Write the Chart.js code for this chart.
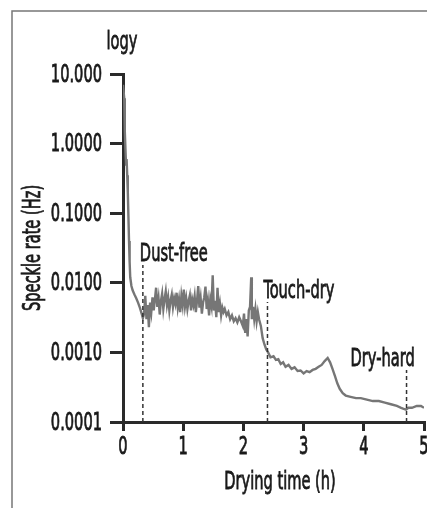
<!DOCTYPE html>
<html>
<head>
<meta charset="utf-8">
<script src="https://cdn.jsdelivr.net/npm/chart.js@4.4.1/dist/chart.umd.min.js"></script>
<style>
  html, body { margin: 0; padding: 0; background: #fff; overflow: hidden; }
  canvas { display: block; }
</style>
</head>
<body>
<canvas id="speckle-chart" width="440" height="508"></canvas>
<script>
const ctx = document.getElementById("speckle-chart");

// data
const times = [
  0.00, 0.02, 0.03, 0.05, 0.06, 0.07, 0.08, 0.09, 0.10, 0.11, 0.12, 0.14, 0.16, 0.19,
  0.22, 0.25, 0.28, 0.31, 0.33, 0.35, 0.37, 0.39, 0.41, 0.43, 0.45, 0.47, 0.49, 0.51,
  0.53, 0.55, 0.57, 0.59, 0.61, 0.63, 0.65, 0.67, 0.69, 0.71, 0.73, 0.75, 0.77, 0.79,
  0.81, 0.83, 0.85, 0.87, 0.89, 0.91, 0.93, 0.95, 0.97, 0.99, 1.01, 1.03, 1.05, 1.07,
  1.09, 1.11, 1.13, 1.15, 1.17, 1.19, 1.21, 1.23, 1.25, 1.27, 1.29, 1.31, 1.33, 1.35,
  1.37, 1.39, 1.41, 1.43, 1.45, 1.47, 1.49, 1.51, 1.53, 1.55, 1.57, 1.59, 1.61, 1.63,
  1.65, 1.67, 1.69, 1.72, 1.75, 1.78, 1.81, 1.84, 1.87, 1.90, 1.93, 1.96, 1.99, 2.01,
  2.03, 2.05, 2.07, 2.09, 2.11, 2.13, 2.14, 2.16, 2.18, 2.20, 2.22, 2.24, 2.26, 2.29,
  2.32, 2.35, 2.38, 2.41, 2.45, 2.50, 2.54, 2.58, 2.62, 2.66, 2.70, 2.75, 2.80, 2.85,
  2.90, 2.95, 3.00, 3.05, 3.10, 3.15, 3.20, 3.25, 3.30, 3.35, 3.40, 3.44, 3.48, 3.52,
  3.56, 3.60, 3.65, 3.70, 3.78, 3.87, 3.95, 4.05, 4.15, 4.25, 4.35, 4.45, 4.55, 4.62,
  4.70, 4.74, 4.80, 4.88, 4.95, 5.00
];
const speckleRate = [
  7.0, 4.5, 1.5, 0.50, 0.60, 0.35, 0.20, 0.09, 0.040, 0.020, 0.012, 0.0090, 0.0078, 0.0068,
  0.0060, 0.0052, 0.0044, 0.0036, 0.0031, 0.0036, 0.0065, 0.0030, 0.0048, 0.0023, 0.0052, 0.0038, 0.0062, 0.0040,
  0.0058, 0.0085, 0.0045, 0.0060, 0.0035, 0.0055, 0.0070, 0.0042, 0.0058, 0.0075, 0.0048, 0.0062, 0.0040, 0.0056,
  0.0068, 0.0045, 0.0060, 0.0050, 0.0072, 0.0044, 0.0058, 0.0038, 0.0065, 0.0048, 0.0080, 0.0046, 0.0060, 0.0042,
  0.0055, 0.0066, 0.0040, 0.0058, 0.0048, 0.0064, 0.0038, 0.0056, 0.0090, 0.0044, 0.0060, 0.0036, 0.0052, 0.0062,
  0.0088, 0.0042, 0.0056, 0.0034, 0.0058, 0.0046, 0.0128, 0.0040, 0.0055, 0.0032, 0.0085, 0.0038, 0.0050, 0.0034,
  0.0044, 0.0038, 0.0042, 0.0034, 0.0038, 0.0030, 0.0034, 0.0028, 0.0031, 0.0027, 0.0032, 0.0028, 0.0024, 0.0036,
  0.0019, 0.0030, 0.0017, 0.0040, 0.0045, 0.0120, 0.0030, 0.0045, 0.0030, 0.0042, 0.0028, 0.0038, 0.0030, 0.0024,
  0.0016, 0.0013, 0.0011, 0.0010, 0.00085, 0.00088, 0.00078, 0.00080, 0.00068, 0.00072, 0.00062, 0.00066, 0.00058, 0.00061,
  0.00054, 0.00055, 0.00050, 0.00054, 0.00052, 0.00056, 0.00058, 0.00062, 0.00066, 0.00075, 0.00083, 0.00072, 0.00058, 0.00046,
  0.00036, 0.00030, 0.00026, 0.00024, 0.00023, 0.00022, 0.00022, 0.00021, 0.00020, 0.00020, 0.00019, 0.00018, 0.00017, 0.00016,
  0.00015, 0.00016, 0.00016, 0.00017, 0.00017, 0.00016
];
const yTickValues = [0.0001, 0.001, 0.01, 0.1, 1, 10];
const yTickLabels = ["0.0001", "0.0010", "0.0100", "0.1000", "1.0000", "10.000"];
const markerLabels = ["Dust-free", "Touch-dry", "Dry-hard"];
const markerTimes = [0.33, 2.40, 4.71];
const markerTops = [0.018, 0.0053, 0.00056];

const FONT = '"DejaVu Sans Condensed", "DejaVu Sans", sans-serif';
const INK = "#1a1a1a";
const SQUEEZE = 0.65; // the original uses a very narrow face

// narrow text: drawn as canvas text, squeezed sideways, a little heavier
function narrowText(c, text, x, y, align, baseline, rot) {
  c.save();
  c.translate(x, y);
  if (rot) c.rotate(rot);
  c.scale(SQUEEZE, 1);
  c.textAlign = align;
  c.textBaseline = baseline;
  c.fillText(text, 0, 0);
  c.strokeText(text, 0, 0);
  c.restore();
}

// frame, labels and the dashed drying markers
const extras = {
  id: "extras",
  beforeDraw(chart) {
    const c = chart.ctx;
    c.save();
    c.strokeStyle = "#777";
    c.lineWidth = 1.5;
    c.beginPath();
    c.moveTo(12, chart.height);
    c.lineTo(12, 11);
    c.lineTo(chart.width, 11);
    c.stroke();
    c.restore();
  },
  afterDraw(chart) {
    const c = chart.ctx;
    const xs = chart.scales.x;
    const ys = chart.scales.y;
    const labelShift = [-3, -4, -56];
    c.save();
    c.font = "25px " + FONT;
    c.fillStyle = INK;
    c.strokeStyle = INK;
    c.lineWidth = 0.8;

    // tick labels
    yTickValues.forEach((v, i) => {
      narrowText(c, yTickLabels[i], xs.left - 21, ys.getPixelForValue(v) + 1, "right", "middle");
    });
    xs.ticks.forEach((t) => {
      narrowText(c, String(t.value), xs.getPixelForValue(t.value), ys.bottom + 25, "center", "middle");
    });

    // titles
    narrowText(c, "logy", xs.left - 1, 49, "center", "alphabetic");
    narrowText(c, "Drying time (h)", 280, ys.bottom + 60, "center", "middle");
    narrowText(c, "Speckle rate (Hz)", 33, (ys.top + ys.bottom) / 2, "center", "middle", -Math.PI / 2);

    // drying markers
    markerTimes.forEach((t, i) => {
      const px = xs.getPixelForValue(t);
      const top = ys.getPixelForValue(markerTops[i]);
      c.save();
      c.strokeStyle = "#333";
      c.lineWidth = 1.5;
      c.setLineDash([4, 3]);
      c.beginPath();
      c.moveTo(px, ys.bottom);
      c.lineTo(px, top);
      c.stroke();
      c.restore();
      narrowText(c, markerLabels[i], px + labelShift[i], top - 4, "left", "alphabetic");
    });
    c.restore();
  },
};

new Chart(ctx, {
  type: "line",
  data: {
    datasets: [
      {
        data: times.map((t, i) => ({ x: t, y: speckleRate[i] })),
        borderColor: "#767676",
        borderWidth: 2.4,
        pointRadius: 0,
        tension: 0,
      },
    ],
  },
  options: {
    responsive: false,
    animation: false,
    layout: { padding: { top: 74, right: 16, left: 0, bottom: 0 } },
    plugins: {
      legend: { display: false },
      tooltip: { enabled: false },
    },
    scales: {
      x: {
        type: "linear",
        min: 0,
        max: 5,
        afterFit: (scale) => { scale.height = 86; },
        ticks: { stepSize: 1, display: false },
        grid: { drawOnChartArea: false, tickLength: 9, color: "#2a2a2a", lineWidth: 3 },
        border: { display: true, color: "#2a2a2a", width: 3 },
      },
      y: {
        type: "logarithmic",
        min: 0.0001,
        max: 10,
        afterFit: (scale) => { scale.width = 123; },
        afterBuildTicks: (scale) => {
          scale.ticks = yTickValues.map((v) => ({ value: v }));
        },
        ticks: { display: false },
        grid: { drawOnChartArea: false, tickLength: 13, color: "#2a2a2a", lineWidth: 3 },
        border: { display: true, color: "#2a2a2a", width: 3 },
      },
    },
  },
  plugins: [extras],
});
</script>
</body>
</html>
